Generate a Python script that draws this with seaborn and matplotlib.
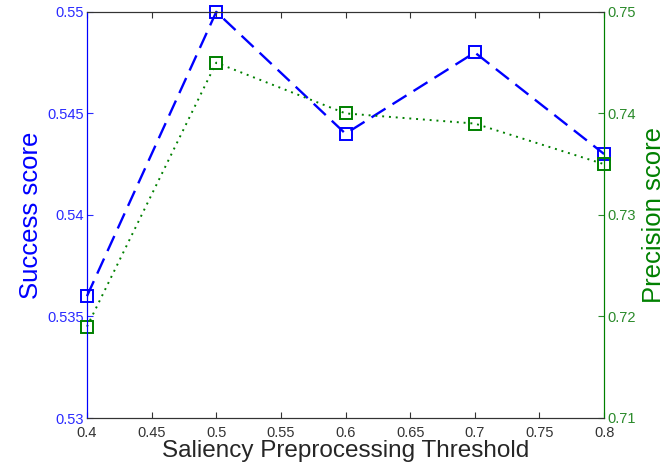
import matplotlib
matplotlib.use("Agg")
import matplotlib.pyplot as plt
import seaborn as sns
import pandas as pd

thresholds = [0.4, 0.5, 0.6, 0.7, 0.8]
success = [0.536, 0.550, 0.544, 0.548, 0.543]
precision = [0.719, 0.745, 0.740, 0.739, 0.735]
x_ticks = [0.4, 0.45, 0.5, 0.55, 0.6, 0.65, 0.7, 0.75, 0.8]
left_ticks = [0.53, 0.535, 0.54, 0.545, 0.55]
right_ticks = [0.71, 0.72, 0.73, 0.74, 0.75]

sns.set_style("white")
plt.rcParams['font.family'] = ['Liberation Sans', 'DejaVu Sans']

df = pd.DataFrame({"thr": thresholds, "success": success, "precision": precision})

BLUE = "#0000ff"
GREEN = "#008000"

fig = plt.figure(figsize=(6.69, 4.75), dpi=100)
ax = fig.add_axes([0.130, 0.12, 0.773, 0.855])
ax2 = ax.twinx()

sns.lineplot(data=df, x="thr", y="success", ax=ax, color=BLUE, linewidth=1.7,
             marker="s", markersize=8.5, markerfacecolor="none", markeredgecolor=BLUE,
             markeredgewidth=1.4, dashes=False)
ax.lines[0].set_dashes([7, 3.5])
ax.lines[0].set_clip_on(False)

sns.lineplot(data=df, x="thr", y="precision", ax=ax2, color=GREEN, linewidth=1.4,
             marker="s", markersize=8.5, markerfacecolor="none", markeredgecolor=GREEN,
             markeredgewidth=1.4, dashes=False)
ax2.lines[0].set_linestyle((0, (1, 2.5)))
ax2.lines[0].set_clip_on(False)

ax.set_xlim(0.4, 0.8)
ax.set_ylim(0.53, 0.55)
ax2.set_ylim(0.71, 0.75)
ax.set_xticks(x_ticks)
ax.set_xticklabels([f"{t:g}" for t in x_ticks])
ax.set_yticks(left_ticks)
ax.set_yticklabels([f"{t:g}" for t in left_ticks])
ax2.set_yticks(right_ticks)
ax2.set_yticklabels([f"{t:g}" for t in right_ticks])

ax.set_xlabel("Saliency Preprocessing Threshold", fontsize=17.5, labelpad=0)
ax.set_ylabel("Success score", fontsize=18.5, color=BLUE, labelpad=3)
ax2.set_ylabel("Precision score", fontsize=18.5, color=GREEN, labelpad=5)

ax.tick_params(axis="x", direction="in", length=4, labelsize=10.5, colors="#333333",
               top=True, bottom=True, pad=6)
ax.tick_params(axis="y", direction="in", length=4, labelsize=10.5, colors="#2a2aff", pad=2)
ax2.tick_params(axis="y", direction="in", length=4, labelsize=10.5, colors="#2a8a2a", pad=2)

for a in (ax, ax2):
    for s in a.spines.values():
        s.set_linewidth(0.8)
        s.set_color("#333333")
    a.set_zorder(a.get_zorder())
ax.spines["left"].set_color(BLUE)
ax2.spines["left"].set_color(BLUE)
ax2.spines["right"].set_color(GREEN)
ax.spines["right"].set_color(GREEN)

fig.savefig("out.png", dpi=100)
